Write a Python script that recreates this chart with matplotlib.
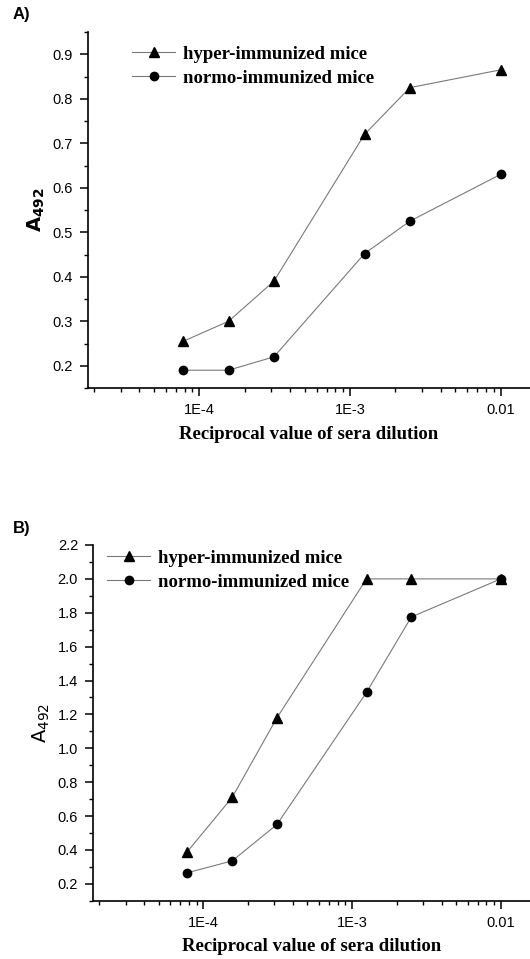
#!/usr/bin/env python3
"""ELISA titration curves (A492 vs reciprocal sera dilution), two panels."""

import matplotlib
matplotlib.use("Agg")
import matplotlib.pyplot as plt
from matplotlib.ticker import FixedLocator, FuncFormatter, LogLocator, MultipleLocator, NullFormatter

# reciprocal dilution (1/12800 ... 1/100)
dilution = [1 / 12800, 1 / 6400, 1 / 3200, 1 / 800, 1 / 400, 1 / 100]

hyper_a = [0.255, 0.30, 0.39, 0.72, 0.825, 0.865]
normo_a = [0.19, 0.19, 0.22, 0.452, 0.525, 0.63]

hyper_b = [0.39, 0.71, 1.18, 2.0, 2.0, 2.0]
normo_b = [0.265, 0.335, 0.55, 1.33, 1.775, 2.0]

labels = ["hyper-immunized mice", "normo-immunized mice"]
xtick_vals = [1e-4, 1e-3, 1e-2]
xtick_text = ["1E-4", "1E-3", "0.01"]

SANS = "Liberation Sans"
SERIF = "Liberation Serif"
LINE = "#7a7a7a"


def style_axes(ax, ylim, ymajor, yminor):
    ax.set_xscale("log")
    ax.set_xlim(1.82e-5, 0.0157)
    ax.set_ylim(*ylim)
    for side in ("top", "right"):
        ax.spines[side].set_visible(False)
    for side in ("left", "bottom"):
        ax.spines[side].set_linewidth(1.2)
    ax.xaxis.set_major_locator(FixedLocator(xtick_vals))
    ax.xaxis.set_major_formatter(FuncFormatter(lambda v, p: xtick_text[xtick_vals.index(v)] if v in xtick_vals else ""))
    ax.xaxis.set_minor_locator(LogLocator(base=10, subs=range(2, 10)))
    ax.xaxis.set_minor_formatter(NullFormatter())
    ax.yaxis.set_major_locator(MultipleLocator(ymajor))
    ax.yaxis.set_minor_locator(MultipleLocator(yminor))
    ax.yaxis.set_major_formatter(FuncFormatter(lambda v, p: f"{v:.1f}"))
    ax.tick_params(which="major", direction="out", length=6, width=1.1, labelsize=10.5, pad=5)
    ax.tick_params(which="minor", direction="out", length=3, width=1.0)
    for lab in ax.get_xticklabels() + ax.get_yticklabels():
        lab.set_fontfamily(SANS)
    ax.set_xlabel("Reciprocal value of sera dilution", fontfamily=SERIF,
                  fontweight="bold", fontsize=13.5, labelpad=6)


def plot_panel(ax, hyper, normo, anchor):
    ax.plot(dilution, hyper, color=LINE, lw=0.8, marker="^", ms=7.5,
            mfc="black", mec="black", label=labels[0])
    ax.plot(dilution, normo, color=LINE, lw=0.8, marker="o", ms=6,
            mfc="black", mec="black", label=labels[1])
    ax.legend(loc="upper left", bbox_to_anchor=anchor, frameon=False,
              borderpad=0, borderaxespad=0, handlelength=2.3, handletextpad=0.4,
              labelspacing=0.36, prop={"family": SERIF, "weight": "bold", "size": 13.5})


fig = plt.figure(figsize=(5.30, 9.59), dpi=100)

ax_a = fig.add_axes([0.166, 0.5954, 0.834, 0.3712])
plot_panel(ax_a, hyper_a, normo_a, (0.10, 0.962))
style_axes(ax_a, (0.15, 0.95), 0.1, 0.05)
ax_a.set_ylabel(r"$\mathbf{A}_{\mathbf{492}}$", fontsize=14, labelpad=4)

ax_b = fig.add_axes([0.176, 0.0608, 0.824, 0.3709])
plot_panel(ax_b, hyper_b, normo_b, (0.032, 0.987))
style_axes(ax_b, (0.1, 2.2), 0.2, 0.1)
ax_b.set_ylabel(r"$\mathrm{A}_{\mathrm{492}}$", fontsize=14, labelpad=4)

fig.text(13 / 530, 1 - 15 / 959, "A)", fontfamily=SANS, fontweight="bold",
         fontsize=12, va="center", ha="left")
fig.text(13 / 530, 1 - 528 / 959, "B)", fontfamily=SANS, fontweight="bold",
         fontsize=12, va="center", ha="left")

fig.savefig("out.png", dpi=100)
